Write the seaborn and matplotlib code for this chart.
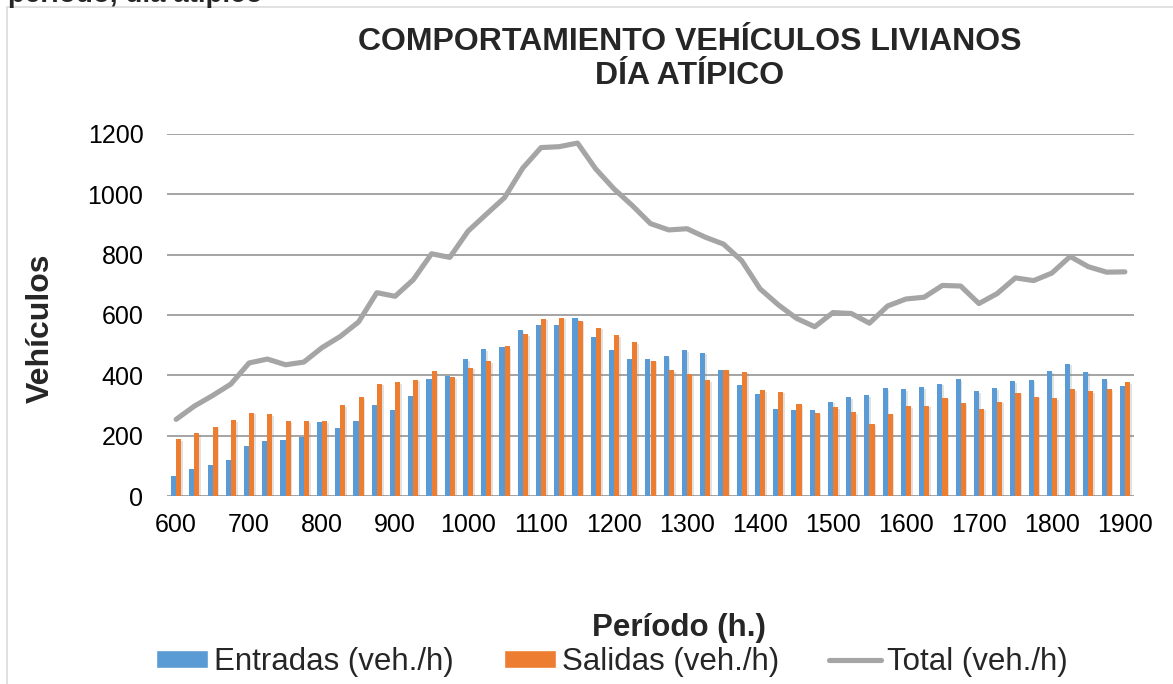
import numpy as np
import pandas as pd
import matplotlib
matplotlib.use("Agg")
import matplotlib.pyplot as plt
import matplotlib.patheffects as pe
from matplotlib.patches import Patch, Rectangle
from matplotlib.lines import Line2D
import seaborn as sns

# Periodos de 15 minutos (hhmm)
periodos = [600, 615, 630, 645, 700, 715, 730, 745, 800, 815, 830, 845,
            900, 915, 930, 945, 1000, 1015, 1030, 1045, 1100, 1115, 1130, 1145,
            1200, 1215, 1230, 1245, 1300, 1315, 1330, 1345, 1400, 1415, 1430, 1445,
            1500, 1515, 1530, 1545, 1600, 1615, 1630, 1645, 1700, 1715, 1730, 1745,
            1800, 1815, 1830, 1845, 1900]

entradas = [66, 90, 103, 119, 165, 182, 186, 196, 244, 227, 249, 302,
            284, 331, 389, 398, 453, 486, 493, 550, 567, 567, 589, 526,
            484, 454, 454, 464, 483, 475, 417, 368, 337, 288, 285, 285,
            313, 327, 334, 357, 355, 360, 372, 388, 348, 358, 380, 385,
            414, 439, 412, 387, 365]

salidas = [188, 208, 230, 252, 276, 272, 249, 248, 248, 302, 328, 372,
           378, 386, 414, 393, 425, 448, 496, 537, 588, 591, 581, 558,
           534, 509, 449, 418, 403, 383, 418, 412, 350, 346, 304, 276,
           295, 278, 239, 273, 298, 299, 326, 308, 290, 313, 343, 329,
           325, 355, 348, 355, 378]

total = [254, 298, 333, 371, 441, 454, 435, 444, 492, 529, 577, 674,
         662, 717, 803, 791, 878, 934, 989, 1087, 1155, 1158, 1170, 1084,
         1018, 963, 903, 882, 886, 858, 835, 780, 687, 634, 589, 561,
         608, 605, 573, 630, 653, 659, 698, 696, 638, 671, 723, 714,
         739, 794, 760, 742, 743]

etiquetas_x = ["600", "700", "800", "900", "1000", "1100", "1200",
               "1300", "1400", "1500", "1600", "1700", "1800", "1900"]

serie_e = "Entradas (veh./h)"
serie_s = "Salidas (veh./h)"
serie_t = "Total (veh./h)"

AZUL = "#5B9BD5"
NARANJA = "#ED7D31"
GRIS = "#A5A5A5"

sns.set_style("white")
plt.rcParams["font.family"] = ["Liberation Sans", "DejaVu Sans"]

W, H = 1173, 684
fig = plt.figure(figsize=(W / 100, H / 100), dpi=100)


def fx(x):
    return x / W


def fy(y):
    return 1 - y / H


ax = fig.add_axes([fx(167), fy(496), 967 / W, 362 / H])

cat = [str(p) for p in periodos]
df = pd.DataFrame({
    "Período": cat * 2,
    "Vehículos": entradas + salidas,
    "Serie": [serie_e] * len(cat) + [serie_s] * len(cat),
})

sns.barplot(data=df, x="Período", y="Vehículos", hue="Serie", order=cat,
            hue_order=[serie_e, serie_s], palette=[AZUL, NARANJA],
            width=0.56, saturation=1, errorbar=None, linewidth=0,
            legend=False, ax=ax, zorder=3)

for barra in ax.patches:
    barra.set_path_effects([
        pe.SimplePatchShadow(offset=(1.2, -1.2), shadow_rgbFace="#7f7f7f", alpha=0.22),
        pe.Normal(),
    ])

posiciones = np.arange(len(cat))
sns.lineplot(x=posiciones, y=total, color=GRIS, linewidth=3.7, sort=False,
             ax=ax, zorder=4, solid_capstyle="round", solid_joinstyle="round")

ax.set_xlim(-0.5, len(cat) - 0.5)
ax.set_ylim(0, 1200)
ax.set_yticks(range(0, 1201, 200))
ticks_h = [i for i, p in enumerate(periodos) if p % 100 == 0]
ax.set_xticks(ticks_h)
ax.set_xticklabels(etiquetas_x)
ax.tick_params(axis="both", length=0, labelsize=18, labelcolor="black")
ax.tick_params(axis="x", pad=12.5)
ax.tick_params(axis="y", pad=17)
ax.set_axisbelow(True)
ax.grid(axis="y", color="#8c8c8c", linewidth=1.1)
ax.grid(axis="x", visible=False)
for s in ax.spines.values():
    s.set_visible(False)

ax.set_xlabel("Período (h.)", fontsize=22.5, fontweight="bold")
ax.set_ylabel("Vehículos", fontsize=23, fontweight="bold")
ax.xaxis.set_label_coords((679 - 167) / 967, (496 - 628) / 362)
ax.xaxis.label.set_verticalalignment("center")
ax.yaxis.set_label_coords((41 - 167) / 967, (496 - 328) / 362)
ax.yaxis.label.set_verticalalignment("center")

fig.text(fx(690), fy(50), "COMPORTAMIENTO VEHÍCULOS LIVIANOS",
         ha="center", va="baseline", fontsize=23, fontweight="bold")
fig.text(fx(690), fy(84), "DÍA ATÍPICO",
         ha="center", va="baseline", fontsize=23, fontweight="bold")

# texto del documento que queda por encima del marco
fig.text(fx(8), fy(2), "período, día atípico", ha="left", va="baseline",
         fontsize=20, fontweight="bold")

# marco del área del gráfico
fig.patches.append(Rectangle((fx(7), -20 / H), (1200 - 7) / W, (H - 7 + 20) / H,
                             transform=fig.transFigure, fill=False,
                             edgecolor="#d9d9d9", linewidth=1.1))

handles = [
    Patch(facecolor=AZUL, label=serie_e),
    Patch(facecolor=NARANJA, label=serie_s),
    Line2D([], [], color=GRIS, linewidth=3.7, solid_capstyle="round", label=serie_t),
]
fig.legend(handles=handles, loc="center", bbox_to_anchor=(fx(612), fy(662)),
           ncol=3, frameon=False, fontsize=22.5, handlelength=1.66,
           handleheight=0.55, handletextpad=0.19, columnspacing=1.6,
           borderpad=0, borderaxespad=0)

fig.savefig("out.png", dpi=100)
